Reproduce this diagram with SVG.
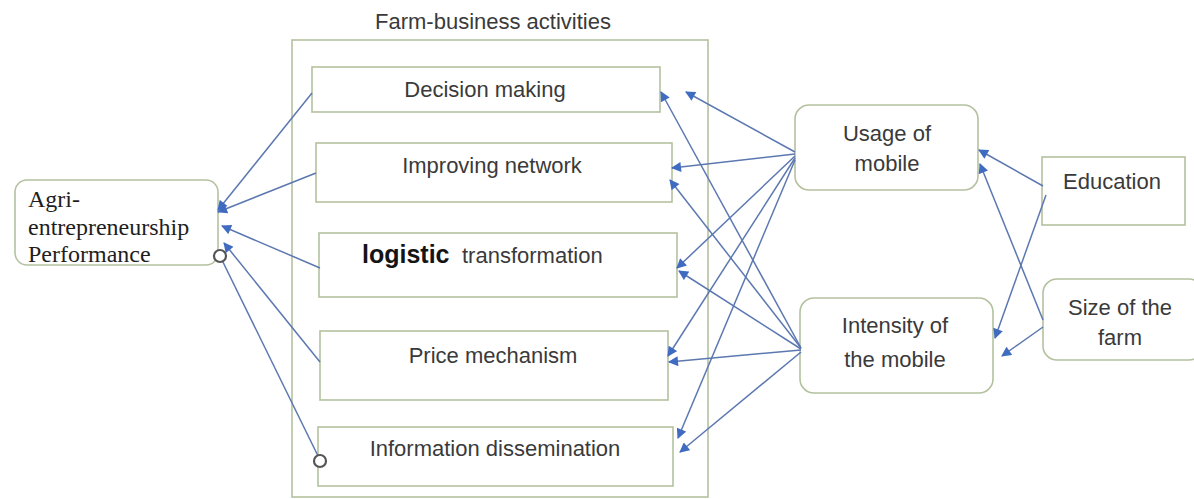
<svg xmlns="http://www.w3.org/2000/svg" width="1194" height="499" viewBox="0 0 1194 499">
  <style>
    .box { fill: #ffffff; stroke: #b4c19f; stroke-width: 1.6; }
    .frame { fill: none; stroke: #b4c19f; stroke-width: 1.6; }
    .lbl { font-family: "Liberation Sans", Arial, sans-serif; font-size: 22px; fill: #3a3a3a; text-anchor: middle; }
    .serif { font-family: "Liberation Serif", "Times New Roman", serif; font-size: 24px; fill: #1e1e1e; }
    .edge { fill: none; stroke: #5c78b0; stroke-width: 1.5; marker-end: url(#arrow); }
    .plain { fill: none; stroke: #5c78b0; stroke-width: 1.5; }
    .ring { fill: #ffffff; stroke: #555555; stroke-width: 2.2; }
  </style>
  <defs>
    <marker id="arrow" viewBox="0 0 10 10" refX="9" refY="5" markerWidth="11" markerHeight="10" markerUnits="userSpaceOnUse" orient="auto">
      <path d="M0,0 L10,5 L0,10 z" fill="#3f6bc0"/>
    </marker>
  </defs>
  <rect width="1194" height="499" fill="#ffffff"/>

  <!-- container of the farm-business activities -->
  <g id="activities">
    <text class="lbl" x="493" y="29">Farm-business activities</text>
    <rect class="frame" x="292" y="40" width="416" height="457"/>
  </g>

  <g id="decision">
    <rect class="box" x="312" y="67" width="348" height="45"/>
    <text class="lbl" x="485" y="97">Decision making</text>
  </g>
  <g id="network">
    <rect class="box" x="316" y="143" width="356" height="59"/>
    <text class="lbl" x="492" y="173">Improving network</text>
  </g>
  <g id="logistic">
    <rect class="box" x="319" y="233" width="358" height="64"/>
    <text x="362" y="263" font-family="Liberation Sans, Arial, sans-serif" font-size="25" font-weight="700" fill="#141414">logistic</text>
    <text x="462" y="263" font-family="Liberation Sans, Arial, sans-serif" font-size="22" fill="#3a3a3a">transformation</text>
  </g>
  <g id="price">
    <rect class="box" x="320" y="331" width="348" height="69"/>
    <text class="lbl" x="493" y="363">Price mechanism</text>
  </g>
  <g id="dissemination">
    <rect class="box" x="318" y="427" width="355" height="59"/>
    <text class="lbl" x="495" y="456">Information dissemination</text>
  </g>

  <g id="performance">
    <rect class="box" x="15" y="180" width="203" height="85" rx="12"/>
    <text class="serif" x="28" y="207">Agri-</text>
    <text class="serif" x="28" y="235">entrepreneurship</text>
    <text class="serif" x="28" y="262">Performance</text>
  </g>

  <g id="usage">
    <rect class="box" x="795" y="105" width="183" height="85" rx="14"/>
    <text class="lbl" x="887" y="141">Usage of</text>
    <text class="lbl" x="887" y="171">mobile</text>
  </g>
  <g id="intensity">
    <rect class="box" x="800" y="298" width="193" height="95" rx="14"/>
    <text class="lbl" x="895" y="333">Intensity of</text>
    <text class="lbl" x="895" y="367">the mobile</text>
  </g>
  <g id="education">
    <rect class="box" x="1042" y="157" width="143" height="68"/>
    <text class="lbl" x="1112" y="189">Education</text>
  </g>
  <g id="farmsize">
    <rect class="box" x="1043" y="279" width="160" height="81" rx="14"/>
    <text class="lbl" x="1120" y="315">Size of the</text>
    <text class="lbl" x="1120" y="345">farm</text>
  </g>

  <g id="connectors">
    <!-- activities to performance -->
    <line class="edge" x1="312" y1="93" x2="218" y2="210"/>
    <line class="edge" x1="316" y1="173" x2="218" y2="212"/>
    <line class="edge" x1="320" y1="268" x2="222" y2="226"/>
    <line class="edge" x1="320" y1="362" x2="224" y2="243"/>
    <line class="plain" x1="320" y1="460" x2="220" y2="256"/>
    <circle class="ring" cx="220" cy="256" r="6"/>
    <circle class="ring" cx="320" cy="461" r="6"/>

    <!-- usage of mobile to activities -->
    <line class="edge" x1="795" y1="152" x2="686" y2="92"/>
    <line class="edge" x1="795" y1="154" x2="672" y2="168"/>
    <line class="edge" x1="795" y1="156" x2="677" y2="268"/>
    <line class="edge" x1="795" y1="158" x2="668" y2="356"/>
    <line class="edge" x1="795" y1="160" x2="678" y2="438"/>

    <!-- intensity of the mobile to activities -->
    <line class="edge" x1="801" y1="348" x2="661" y2="92"/>
    <line class="edge" x1="801" y1="348" x2="670" y2="180"/>
    <line class="edge" x1="801" y1="349" x2="679" y2="271"/>
    <line class="edge" x1="801" y1="350" x2="669" y2="362"/>
    <line class="edge" x1="801" y1="352" x2="680" y2="452"/>

    <!-- education and farm size to mobile use -->
    <line class="edge" x1="1043" y1="186" x2="979" y2="150"/>
    <line class="edge" x1="1046" y1="195" x2="995" y2="338"/>
    <line class="edge" x1="1043" y1="320" x2="980" y2="164"/>
    <line class="edge" x1="1043" y1="327" x2="1002" y2="356"/>
  </g>
</svg>
